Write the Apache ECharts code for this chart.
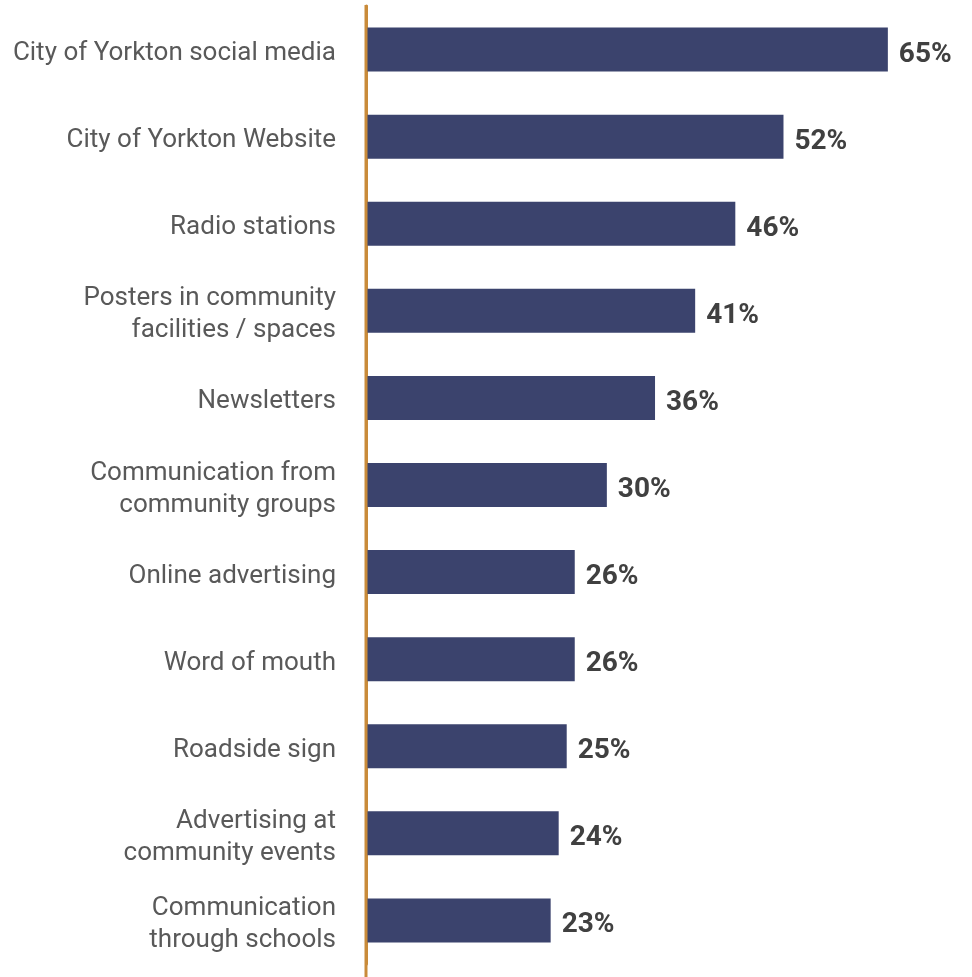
<!DOCTYPE html>
<html><head><meta charset="utf-8">
<script src="https://cdn.jsdelivr.net/npm/echarts@6/dist/echarts.min.js"></script>
<style>html,body{margin:0;padding:0;background:#fff}#c{width:972px;height:977px}</style>
</head><body><div id="c"></div>
<script>
var categories = [
  "City of Yorkton social media",
  "City of Yorkton Website",
  "Radio stations",
  "Posters in community\nfacilities / spaces",
  "Newsletters",
  "Communication from\ncommunity groups",
  "Online advertising",
  "Word of mouth",
  "Roadside sign",
  "Advertising at\ncommunity events",
  "Communication\nthrough schools"
];
var values = [65, 52, 46, 41, 36, 30, 26, 26, 25, 24, 23];

var chart = echarts.init(document.getElementById('c'), null, {renderer: 'canvas'});
chart.setOption({
  animation: false,
  backgroundColor: '#fff',
  grid: {left: 366, top: 6, width: 562, height: 958, containLabel: false},
  xAxis: {type: 'value', min: 0, max: 70, show: false},
  yAxis: {
    type: 'category', data: categories, inverse: true,
    axisLine: {show: true, lineStyle: {color: '#c98b3a', width: 3}},
    axisTick: {show: false},
    axisLabel: {
      color: '#595959', fontFamily: 'Roboto', fontSize: 26, lineHeight: 32, margin: 30, align: 'right',
      formatter: function (v) { return '{s| }\n' + v.split('\n').map(function (l) { return '{t|' + l + '}'; }).join('\n'); },
      rich: {
        s: {fontSize: 8, lineHeight: 8, height: 8},
        t: {color: '#595959', fontFamily: 'Roboto', fontSize: 26, lineHeight: 32}
      }
    }
  },
  series: [{
    type: 'bar', data: values, barWidth: 44,
    itemStyle: {color: '#3b436d'},
    label: {show: true, position: 'right', distance: 11, formatter: '{c}%', color: '#404040', fontFamily: 'Roboto', fontWeight: 'bold', fontSize: 28, offset: [0, 5]}
  }]
});
var p0 = chart.convertToPixel({gridIndex: 0}, [0, 0]);
chart.setOption({graphic: [{type: 'line', z: 10, shape: {x1: p0[0], y1: 5, x2: p0[0], y2: 977}, style: {stroke: '#c98b3a', lineWidth: 3}}]});
</script></body></html>
